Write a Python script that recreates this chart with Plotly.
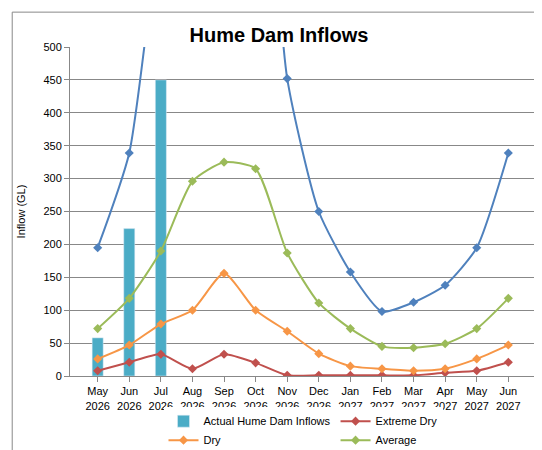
import plotly.graph_objects as go

months = ["May<br>2026","Jun<br>2026","Jul<br>2026","Aug<br>2026","Sep<br>2026","Oct<br>2026","Nov<br>2026",
          "Dec<br>2026","Jan<br>2027","Feb<br>2027","Mar<br>2027","Apr<br>2027","May<br>2027","Jun<br>2027"]
actual = [58, 224, 450]
extreme_dry = [8, 21, 33, 11, 33, 20, 1, 1, 1, 1, 1, 5, 8, 21]
dry = [26, 47, 79, 100, 156, 100, 68, 34, 15, 11, 8, 11, 26, 47]
average = [72, 118, 190, 296, 325, 315, 187, 111, 72, 45, 43, 49, 72, 118]
wet = [195, 339, 700, 950, 1050, 950, 452, 250, 158, 98, 112, 138, 195, 339]

fig = go.Figure()
fig.add_bar(x=months[:3], y=actual, name="Actual Hume Dam Inflows", marker_color="#4bacc6", width=0.35)
def line(y, name, c):
    fig.add_scatter(x=months, y=y, name=name, mode="lines+markers", line=dict(color=c, width=2, shape="spline", smoothing=0.6),
                    marker=dict(symbol="diamond", size=7, color=c))
line(extreme_dry, "Extreme Dry", "#c0504d")
line(dry, "Dry", "#f79646")
line(average, "Average", "#9bbb59")
line(wet, "Wet", "#4f81bd")

fig.update_layout(
    width=542, height=450, paper_bgcolor="white", plot_bgcolor="white",
    font=dict(family="Liberation Sans, Arial", size=11, color="black"),
    title=dict(text="<b>Hume Dam Inflows</b>", x=0.5, y=0.94, xanchor="center", yanchor="middle", font=dict(size=20)),
    margin=dict(l=62, r=14, t=39, b=82, autoexpand=False),
    legend=dict(orientation="h", x=0.5, xanchor="center", y=-0.195, yanchor="middle", font=dict(size=11),
                entrywidthmode="pixels", entrywidth=0, itemwidth=30, tracegroupgap=0),
    xaxis=dict(showline=True, linecolor="#888", ticks="outside", tickcolor="#888"),
    yaxis=dict(range=[0, 500], dtick=50, showgrid=True, gridcolor="#888", showline=True, linecolor="#888",
               title=dict(text="Inflow (GL)", font=dict(size=11)), ticks="outside", tickcolor="#888"),
    shapes=[dict(type="rect", xref="paper", yref="paper", x0=-0.124, x1=1.019, y0=-0.237, y1=1.106,
                 line=dict(color="#888", width=1))],
)
fig.write_html("out.html")
